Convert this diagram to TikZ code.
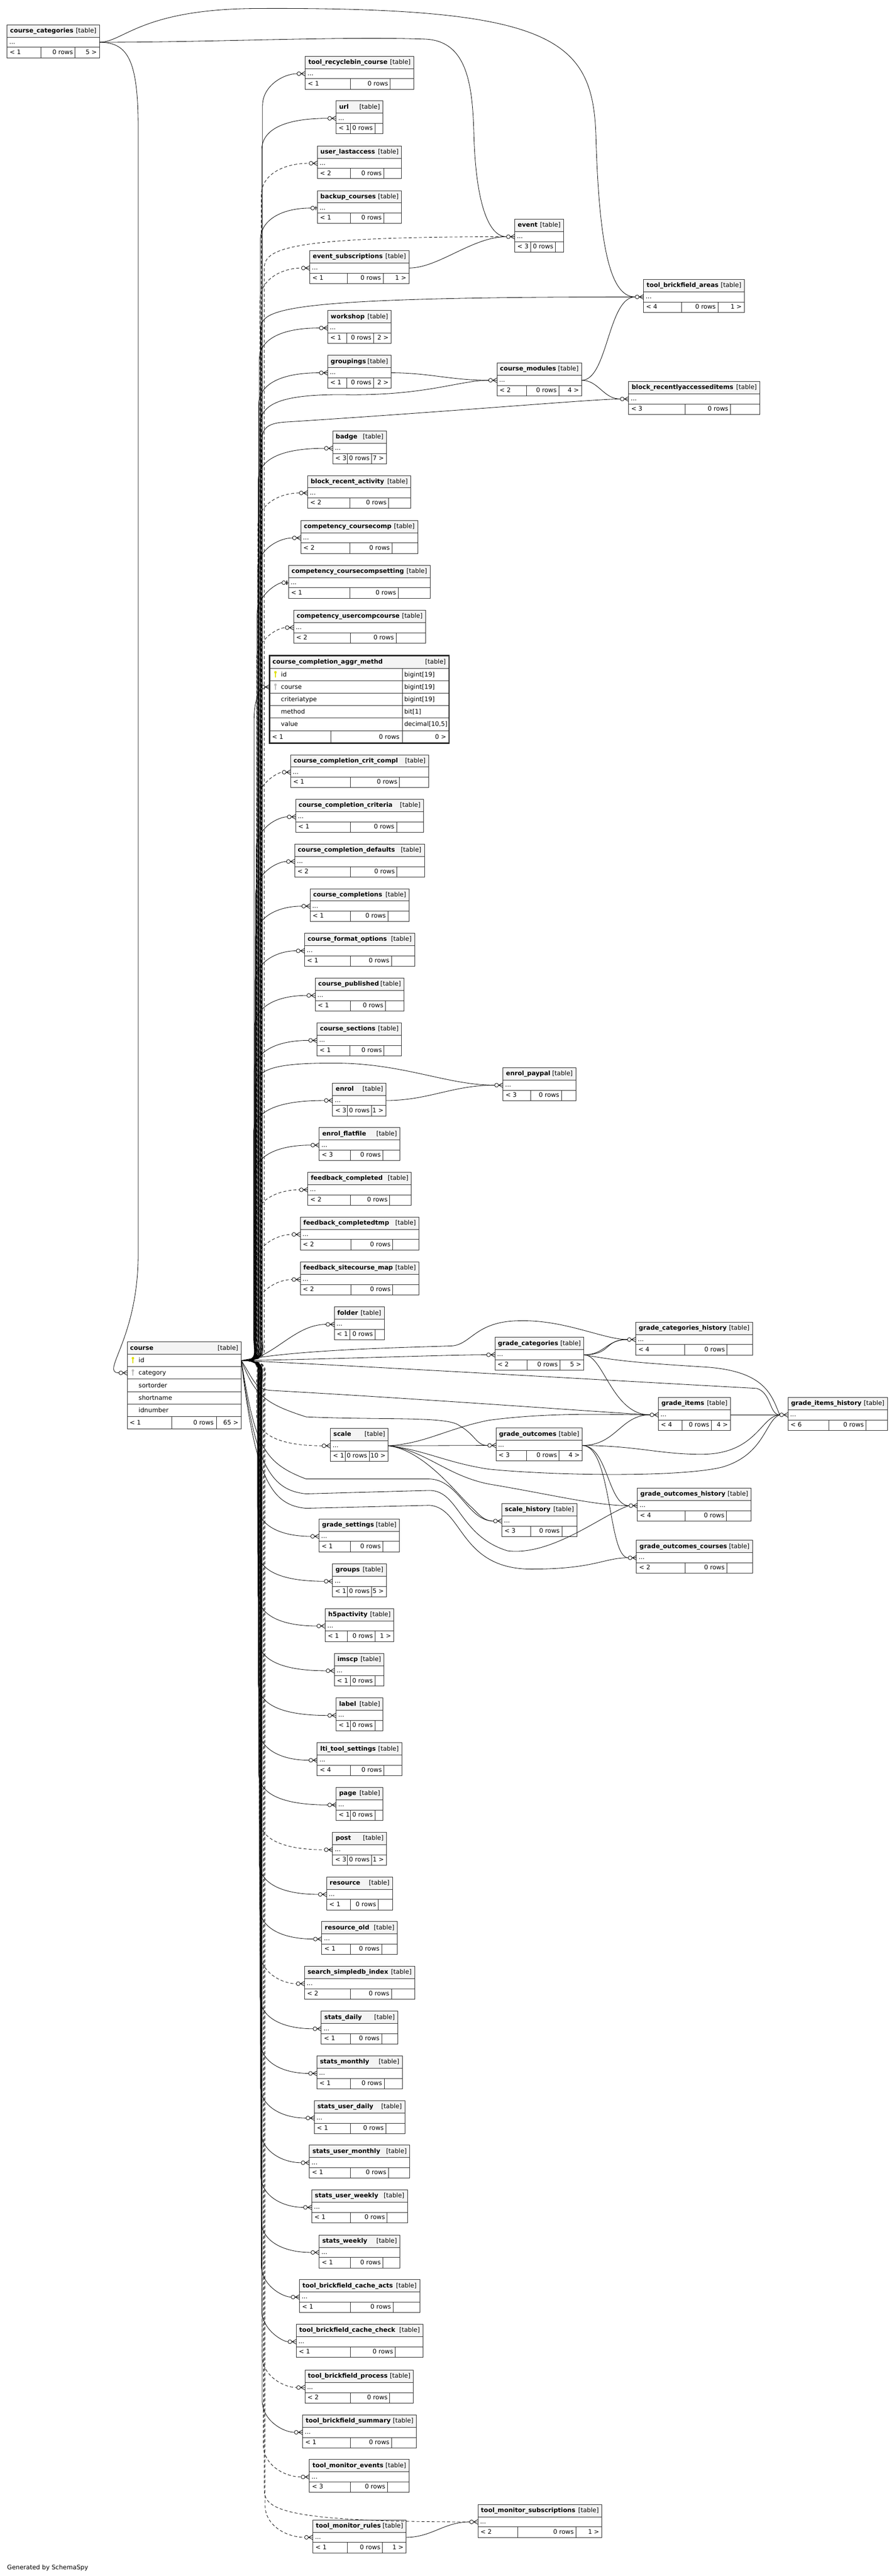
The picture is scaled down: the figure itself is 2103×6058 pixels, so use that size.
\documentclass[tikz,border=0pt]{standalone}
\usepackage{fontspec}
\setmainfont{DejaVu Sans}
\usetikzlibrary{calc}

\definecolor{hdr}{HTML}{F4F4F4}
\definecolor{pkey}{HTML}{E0E000}
\definecolor{fkey}{HTML}{BDBDBD}

\tikzset{
  every node/.style={font=\fontsize{14.6}{17}\selectfont, inner sep=0pt},
  box/.style={draw=black!85, line width=1.2pt},
  fk/.style={line width=1pt},
  impl/.style={dash pattern=on 7pt off 5pt},
}

% table with "..." row: name, left, top, right, divider 1, divider 2, title, parents, children
\newcommand\tbl[9]{%
  \fill[hdr] (#2,#3) rectangle (#4,#3+29);
  \draw[box] (#2,#3) rectangle (#4,#3+77.4);
  \draw[box] (#2,#3+29) -- (#4,#3+29) (#2,#3+53) -- (#4,#3+53)
    (#5,#3+53) -- (#5,#3+77.4) (#6,#3+53) -- (#6,#3+77.4);
  \node[anchor=base west] (#1-h) at (#2+7,#3+18.5) {\bfseries #7};
  \node[anchor=base east] (#1-t) at (#4-7,#3+18.5) {[table]};
  \node[anchor=base west] (#1-r) at (#2+5,#3+45) {...};
  \node[anchor=base west] (#1-a) at (#2+6,#3+69) {#8};
  \node[anchor=base east] (#1-n) at (#6-5,#3+69) {0 rows};
  \node[anchor=base east] (#1-b) at (#4-6,#3+69) {#9};
  \coordinate (#1-w) at (#2,#3+41);
  \coordinate (#1-out) at (#4,#3+41);
}
% zero or many
\newcommand\manyend[2]{%
  \draw[fk] ($(#2)+(-10.5,0)$) -- (#2) ($(#2)+(-10,0)$) -- ($(#2)+(0,-5.5)$)
    ($(#2)+(-10,0)$) -- ($(#2)+(0,5.5)$);
  \draw[fk,fill=white] ($(#2)+(-15,0)$) circle (4.5pt);
  \coordinate (#1-in) at ($(#2)+(-19.5,0)$);
}
% zero or one
\newcommand\oneend[2]{%
  \draw[fk] ($(#2)+(-6.5,0)$) -- (#2);
  \draw[line width=2.2pt] ($(#2)+(-3.5,-5)$) -- ($(#2)+(-3.5,5)$);
  \draw[fk,fill=white] ($(#2)+(-11,0)$) circle (4.5pt);
  \coordinate (#1-in) at ($(#2)+(-15.5,0)$);
}
\newcommand\keyicon[3]{%
  \fill[#3] (#1,#2) circle (3pt);
  \draw[#3,line width=2.4pt] (#1,#2) -- (#1,#2+12);
}
% edges out of course: up / down the trunk
\newcommand\fkup[3][]{%
  \draw[fk,#1] let \p1=(course-out), \p2=(#2-in) in
    (\p1) .. controls (\x1+#3pt+12pt,\y1) and (\x1+#3pt,\y1+18pt) .. (\x1+#3pt,\y1+55pt)
    -- (\x1+#3pt,\y2-75pt) .. controls (\x1+#3pt,\y2-28pt) and ({min(\x2,\x1+#3pt+50pt)},\y2) .. (\p2);
}
\newcommand\fkdn[3][]{%
  \draw[fk,#1] let \p1=(course-out), \p2=(#2-in) in
    (\p1) .. controls (\x1+#3pt+12pt,\y1) and (\x1+#3pt,\y1-18pt) .. (\x1+#3pt,\y1-55pt)
    -- (\x1+#3pt,\y2+75pt) .. controls (\x1+#3pt,\y2+28pt) and ({min(\x2,\x1+#3pt+50pt)},\y2) .. (\p2);
}

\begin{document}
\begin{tikzpicture}[x=1pt,y=-1pt]
\fill[white] (0,0) rectangle (2103,6058);
\useasboundingbox (0,0) rectangle (2103,6058);

% ---- tables
\tbl{cc}{16.7}{58.3}{234}{96.7}{176.7}{course\_categories}{< 1}{5 >}
\tbl{recyclebin}{718.3}{132.3}{973.3}{825}{918.3}{tool\_recyclebin\_course}{< 1}{}
\tbl{url}{790.7}{237.3}{901}{825}{882.3}{url}{< 1}{}
\tbl{lastaccess}{746.7}{343}{945}{825}{903.3}{user\_lastaccess}{< 2}{}
\tbl{backup}{746.7}{448.3}{945}{825}{903.3}{backup\_courses}{< 1}{}
\tbl{evsub}{728.7}{589.3}{962.2}{817.5}{901.5}{event\_subscriptions}{< 1}{1 >}
\tbl{workshop}{770.8}{730.3}{920.2}{816}{879}{workshop}{< 1}{2 >}
\tbl{groupings}{770.8}{835.7}{920.2}{816}{879}{groupings}{< 1}{2 >}
\tbl{badge}{782.7}{1013.3}{909.3}{817}{874.7}{badge}{< 3}{7 >}
\tbl{recact}{723.7}{1118.3}{966.7}{823.7}{914.7}{block\_recent\_activity}{< 2}{}
\tbl{ccomp}{707.7}{1224}{982.7}{823.7}{922.3}{competency\_coursecomp}{< 2}{}
\tbl{ccompset}{678.7}{1329.3}{1012}{823.7}{937}{competency\_coursecompsetting}{< 1}{}
\tbl{ucompc}{690.7}{1435}{1001.3}{825}{932}{competency\_usercompcourse}{< 2}{}
\tbl{critcompl}{683.5}{1775}{1008.5}{824}{940}{course\_completion\_crit\_compl}{< 1}{}
\tbl{criteria}{695.5}{1880}{996.5}{824}{933}{course\_completion\_criteria}{< 1}{}
\tbl{cdefaults}{693.5}{1985}{998.5}{824}{934}{course\_completion\_defaults}{< 2}{}
\tbl{completions}{729.5}{2090}{962.5}{824}{913}{course\_completions}{< 1}{}
\tbl{formatopts}{716.5}{2195}{975.5}{824}{921}{course\_format\_options}{< 1}{}
\tbl{published}{741.5}{2300}{950.5}{824}{907}{course\_published}{< 1}{}
\tbl{sections}{745.7}{2405.7}{945}{823.3}{903.7}{course\_sections}{< 1}{}
\tbl{enrol}{782.6}{2547}{908.5}{817}{874.7}{enrol}{< 3}{1 >}
\tbl{flatfile}{751}{2652}{941}{824}{901}{enrol\_flatfile}{< 3}{}
\tbl{fbcompl}{724}{2757}{968}{824}{917}{feedback\_completed}{< 2}{}
\tbl{fbtmp}{706.5}{2862}{985.5}{825.3}{924}{feedback\_completedtmp}{< 2}{}
\tbl{fbmap}{706.5}{2968}{985.5}{825.3}{924}{feedback\_sitecourse\_map}{< 2}{}
\tbl{folder}{786.4}{3073.5}{904}{823.8}{882.6}{folder}{< 1}{}
\tbl{scale}{777.2}{3359}{913.3}{812}{869}{scale}{< 1}{10 >}
\tbl{gsettings}{750.5}{3572}{940}{825}{901}{grade\_settings}{< 1}{}
\tbl{groups}{782.3}{3677.7}{909}{817.3}{874.7}{groups}{< 1}{5 >}
\tbl{h5p}{765}{3782.8}{926.3}{817.3}{882.7}{h5pactivity}{< 1}{1 >}
\tbl{imscp}{786.7}{3888.1}{903.7}{824}{882.3}{imscp}{< 1}{}
\tbl{label}{790.7}{3993.2}{901.3}{825}{882.3}{label}{< 1}{}
\tbl{lti}{746.3}{4098.5}{945.3}{825}{903.7}{lti\_tool\_settings}{< 4}{}
\tbl{page}{790.7}{4203.6}{901.3}{825}{882.3}{page}{< 1}{}
\tbl{post}{782.5}{4309}{909.5}{817}{874.7}{post}{< 3}{1 >}
\tbl{resource}{768.5}{4414}{923.5}{824}{890}{resource}{< 1}{}
\tbl{resold}{757}{4519}{935}{824}{898}{resource\_old}{< 1}{}
\tbl{search}{716.5}{4624}{975.5}{824}{921}{search\_simpledb\_index}{< 2}{}
\tbl{stdaily}{756}{4730}{936}{824}{898}{stats\_daily}{< 1}{}
\tbl{stmonthly}{745.5}{4835}{946.5}{824}{904}{stats\_monthly}{< 1}{}
\tbl{studaily}{739.5}{4940}{952.5}{824}{908}{stats\_user\_daily}{< 1}{}
\tbl{stumonthly}{728}{5045}{964}{824}{914}{stats\_user\_monthly}{< 1}{}
\tbl{stuweekly}{733.5}{5150}{958.5}{824}{911}{stats\_user\_weekly}{< 1}{}
\tbl{stweekly}{751}{5256}{941}{824}{901}{stats\_weekly}{< 1}{}
\tbl{bfacts}{704.5}{5361}{987.5}{824}{925}{tool\_brickfield\_cache\_acts}{< 1}{}
\tbl{bfcheck}{697}{5466}{995}{824}{930}{tool\_brickfield\_cache\_check}{< 1}{}
\tbl{bfproc}{717.3}{5573.7}{972.8}{823.9}{917.1}{tool\_brickfield\_process}{< 2}{}
\tbl{bfsum}{712}{5679}{979.8}{825}{921.4}{tool\_brickfield\_summary}{< 1}{}
\tbl{monev}{728}{5784}{962.6}{823.9}{911.7}{tool\_monitor\_events}{< 3}{}
\tbl{monrules}{736}{5926}{955.6}{817}{900}{tool\_monitor\_rules}{< 1}{1 >}

\tbl{event}{1211}{515.7}{1326}{1248.6}{1307}{event}{< 3}{}
\tbl{tbareas}{1514}{657.3}{1751.3}{1603.5}{1689}{tool\_brickfield\_areas}{< 4}{1 >}
\tbl{cmods}{1169.2}{853.3}{1368.4}{1239}{1314.7}{course\_modules}{< 2}{4 >}
\tbl{raitems}{1478.9}{897.3}{1787.8}{1612}{1718.6}{block\_recentlyaccesseditems}{< 3}{}
\tbl{paypal}{1183.3}{2511}{1354.7}{1248.6}{1321}{enrol\_paypal}{< 3}{}
\tbl{gcat}{1164.4}{3145}{1373.8}{1240.6}{1317.5}{grade\_categories}{< 2}{5 >}
\tbl{gcathist}{1495.6}{3109.2}{1770.6}{1611}{1710.6}{grade\_categories\_history}{< 4}{}
\tbl{gitems}{1548.8}{3286.3}{1718.8}{1605}{1673.8}{grade\_items}{< 4}{4 >}
\tbl{gitemshist}{1853.8}{3286.3}{2088}{1950}{2037.5}{grade\_items\_history}{< 6}{}
\tbl{gout}{1166.9}{3358.2}{1370}{1238.8}{1315.6}{grade\_outcomes}{< 3}{4 >}
\tbl{shist}{1180.6}{3536}{1357.5}{1248.8}{1321.9}{scale\_history}{< 3}{}
\tbl{gouthist}{1499.4}{3499.8}{1767.5}{1612.5}{1709.4}{grade\_outcomes\_history}{< 4}{}
\tbl{goutcourses}{1497.5}{3622.4}{1770.6}{1612}{1710}{grade\_outcomes\_courses}{< 2}{}
\tbl{monsubs}{1124.4}{5889.7}{1416}{1218}{1355}{tool\_monitor\_subscriptions}{< 2}{1 >}

% course_completion_aggr_methd, all columns
\fill[hdr] (634,1541.7) rectangle (1056.3,1571.7);
\draw[box] (634,1571.7) -- (1056.3,1571.7) (634,1601) -- (1056.3,1601)
  (634,1630.3) -- (1056.3,1630.3) (634,1659.6) -- (1056.3,1659.6)
  (634,1688.9) -- (1056.3,1688.9) (634,1718.2) -- (1056.3,1718.2)
  (946.3,1571.7) -- (946.3,1747.5) (778.7,1718.2) -- (778.7,1747.5);
\draw[box,line width=3.2pt] (634,1541.7) rectangle (1056.3,1747.5);
\node[anchor=base west] (aggr-h) at (641,1561.5) {\bfseries course\_completion\_aggr\_methd};
\node[anchor=base east] (aggr-t) at (1049,1561.5) {[table]};
\keyicon{648}{1581}{pkey}
\keyicon{648}{1610.3}{fkey}
\node[anchor=base west] (aggr-c1) at (661,1591) {id};
\node[anchor=base west] (aggr-c2) at (661,1620.3) {course};
\node[anchor=base west] (aggr-c3) at (661,1649.6) {criteriatype};
\node[anchor=base west] (aggr-c4) at (661,1679) {method};
\node[anchor=base west] (aggr-c5) at (661,1708.2) {value};
\node[anchor=base west] (aggr-d1) at (951,1591) {bigint[19]};
\node[anchor=base west] (aggr-d2) at (951,1620.3) {bigint[19]};
\node[anchor=base west] (aggr-d3) at (951,1649.6) {bigint[19]};
\node[anchor=base west] (aggr-d4) at (951,1679) {bit[1]};
\node[anchor=base west] (aggr-d5) at (951,1708.2) {decimal[10,5]};
\node[anchor=base west] (aggr-a) at (640,1738) {< 1};
\node[anchor=base east] (aggr-n) at (940,1738) {0 rows};
\node[anchor=base east] (aggr-b) at (1050,1738) {0 >};
\coordinate (aggr-w) at (634,1615.6);

% course, key columns
\fill[hdr] (299.3,3156) rectangle (567.7,3185);
\draw[box] (299.3,3156) rectangle (567.7,3360);
\draw[box] (299.3,3185) -- (567.7,3185) (299.3,3214) -- (567.7,3214)
  (299.3,3243) -- (567.7,3243) (299.3,3272.5) -- (567.7,3272.5)
  (299.3,3302) -- (567.7,3302) (299.3,3331) -- (567.7,3331)
  (404,3331) -- (404,3360) (509,3331) -- (509,3360);
\node[anchor=base west] (course-h) at (306,3175) {\bfseries course};
\node[anchor=base east] (course-t) at (560.7,3175) {[table]};
\keyicon{312.7}{3194}{pkey}
\keyicon{312.7}{3223}{fkey}
\node[anchor=base west] (course-c1) at (326,3204.5) {id};
\node[anchor=base west] (course-c2) at (326,3233.5) {category};
\node[anchor=base west] (course-c3) at (326,3263) {sortorder};
\node[anchor=base west] (course-c4) at (326,3292) {shortname};
\node[anchor=base west] (course-c5) at (326,3321) {idnumber};
\node[anchor=base west] (course-a) at (305,3351) {< 1};
\node[anchor=base east] (course-n) at (503,3351) {0 rows};
\node[anchor=base east] (course-b) at (561,3351) {65 >};
\coordinate (course-out) at (567.7,3199.5);
\coordinate (course-cw) at (299.3,3228.5);

\node[anchor=base west] (gen) at (16.7,6043) {Generated by SchemaSpy};

% ---- ends
\manyend{course}{course-cw}
\manyend{aggr}{aggr-w}
\foreach \t in {recyclebin,url,lastaccess,evsub,workshop,groupings,badge,recact,ccomp,ucompc,
  critcompl,criteria,cdefaults,completions,formatopts,published,sections,enrol,flatfile,
  fbcompl,fbtmp,fbmap,folder,scale,gsettings,groups,h5p,imscp,label,lti,page,post,resource,
  resold,search,stdaily,stmonthly,studaily,stumonthly,stuweekly,stweekly,bfacts,bfcheck,
  bfproc,bfsum,monev,monrules,event,tbareas,cmods,raitems,paypal,gcat,gcathist,gitems,
  gitemshist,gout,shist,gouthist,goutcourses,monsubs}
  {\manyend{\t}{\t-w}}
\oneend{backup}{backup-w}
\oneend{ccompset}{ccompset-w}

% ---- course_categories
\draw[fk] (cc-out) .. controls (300,99.7) and (325,140) .. (325,300) -- (325,2950)
  .. controls (325,3150) and (235,3228.5) .. (course-in);
\draw[fk] (cc-out) .. controls (500,99.7) and (800,85) .. (1000,92)
  .. controls (1100,96) and (1112,200) .. (1115,320)
  .. controls (1120,480) and (1150,556.7) .. (event-in);
\draw[fk] (cc-out) .. controls (290,99.7) and (330,22) .. (600,20)
  .. controls (1300,16) and (1395,90) .. (1402,320)
  .. controls (1410,600) and (1440,698.3) .. (tbareas-in);

% ---- course, upwards
\fkup{recyclebin}{50}
\fkup{url}{48}
\fkup[impl]{lastaccess}{47}
\fkup{backup}{45}
\fkup[impl]{event}{54}
\fkup[impl]{evsub}{44}
\fkup{tbareas}{46}
\fkup{workshop}{42}
\fkup{groupings}{41}
\draw[fk] (course-out) .. controls (624,3199.5) and (612,3180) .. (612,3140) -- (612,1000)
  .. controls (612,950) and (660,928) .. (803,928)
  .. controls (1000,932) and (1080,894.3) .. (cmods-in);
\draw[fk] (course-out) .. controls (628,3199.5) and (616,3180) .. (616,3140) -- (616,1040)
  .. controls (616,1005) and (630,994) .. (680,992)
  .. controls (1100,965) and (1400,938.3) .. (raitems-in);
\fkup{badge}{40}
\fkup[impl]{recact}{39}
\fkup{ccomp}{38}
\fkup{ccompset}{37}
\fkup[impl]{ucompc}{36}
\fkup{aggr}{30}
\fkup[impl]{critcompl}{36}
\fkup{criteria}{35}
\fkup{cdefaults}{34}
\fkup{completions}{33}
\fkup{formatopts}{32}
\fkup{published}{31}
\fkup{sections}{30}
\draw[fk] (course-out) .. controls (612,3199.5) and (600,3180) .. (600,3140) -- (600,2560)
  .. controls (600,2515) and (640,2500) .. (784,2500)
  .. controls (950,2500) and (1050,2552) .. (paypal-in);
\fkup{enrol}{29}
\fkup{flatfile}{30}
\fkup[impl]{fbcompl}{31}
\fkup[impl]{fbtmp}{32}
\fkup[impl]{fbmap}{34}
\draw[fk] (course-out) .. controls (640,3199.5) and (690,3114.5) .. (folder-in);

% ---- course, downwards
\fkdn[impl]{scale}{36}
\fkdn{gsettings}{38}
\fkdn{groups}{38}
\fkdn{h5p}{39}
\fkdn{imscp}{40}
\fkdn{label}{40}
\fkdn{lti}{41}
\fkdn{page}{41}
\fkdn[impl]{post}{42}
\fkdn{resource}{42}
\fkdn{resold}{43}
\fkdn[impl]{search}{44}
\fkdn{stdaily}{44}
\fkdn{stmonthly}{45}
\fkdn{studaily}{45}
\fkdn{stumonthly}{46}
\fkdn{stuweekly}{46}
\fkdn{stweekly}{47}
\fkdn{bfacts}{47}
\fkdn{bfcheck}{48}
\fkdn[impl]{bfproc}{49}
\fkdn{bfsum}{49}
\fkdn[impl]{monev}{52}
\fkdn[impl]{monrules}{56}
\fkdn[impl]{monsubs}{54}

% ---- course, grade tables
\draw[fk] (course-out) .. controls (800,3196) and (1050,3186) .. (gcat-in);
\draw[fk] (course-out) .. controls (700,3172) and (1000,3168) .. (1065,3165)
  .. controls (1110,3160) and (1120,3106) .. (1225,3106)
  .. controls (1330,3104) and (1420,3150) .. (gcathist-in);
\draw[fk] (course-out) .. controls (900,3215) and (1500,3250) .. (1780,3265)
  .. controls (1815,3275) and (1810,3327.3) .. (gitemshist-in);
\draw[fk] (course-out) .. controls (600,3250) and (600,3268) .. (640,3270)
  .. controls (1000,3290) and (1400,3320) .. (gitems-in);
\draw[fk] (course-out) .. controls (600,3280) and (620,3300) .. (720,3332)
  .. controls (900,3340) and (1050,3330) .. (1080,3352)
  .. controls (1120,3375) and (1120,3399.2) .. (gout-in);
\draw[fk] (course-out) .. controls (600,3400) and (620,3440) .. (720,3478) -- (1010,3478)
  .. controls (1080,3480) and (1100,3577) .. (shist-in);
\draw[fk] (course-out) .. controls (600,3450) and (640,3505) .. (720,3513) -- (1010,3505)
  .. controls (1080,3505) and (1080,3612) .. (1194,3647)
  .. controls (1300,3660) and (1420,3560) .. (gouthist-in);
\draw[fk] (course-out) .. controls (600,3480) and (640,3540) .. (720,3547) -- (1010,3540)
  .. controls (1090,3545) and (1080,3690) .. (1250,3690)
  .. controls (1400,3690) and (1420,3663.4) .. (goutcourses-in);

% ---- scale
\draw[fk] (scale-out) -- (gout-in);
\draw[fk] (scale-out) .. controls (1000,3395) and (1050,3360) .. (1150,3340)
  .. controls (1300,3320) and (1450,3327.3) .. (gitems-in);
\draw[fk] (scale-out) .. controls (1000,3410) and (1050,3440) .. (1150,3455)
  .. controls (1300,3470) and (1600,3475) .. (1700,3450)
  .. controls (1800,3420) and (1800,3340) .. (gitemshist-in);
\draw[fk] (scale-out) .. controls (1000,3410) and (1050,3470) .. (1150,3490)
  .. controls (1300,3515) and (1400,3540.8) .. (gouthist-in);
\draw[fk] (scale-out) .. controls (1000,3410) and (1080,3520) .. (1110,3545)
  .. controls (1130,3565) and (1140,3577) .. (shist-in);

% ---- grade tables among themselves
\draw[fk] (gcat-out) .. controls +(50,0) and +(-50,0) .. (gcathist-in);
\draw[fk] (gcat-out) .. controls (1440,3186) and (1420,3150.2) .. (gcathist-in);
\draw[fk] (gcat-out) .. controls (1420,3186) and (1440,3327.3) .. (gitems-in);
\draw[fk] (gcat-out) .. controls (1450,3200) and (1500,3205) .. (1662,3215)
  .. controls (1800,3225) and (1815,3280) .. (gitemshist-in);
\draw[fk] (gitems-out) -- (gitemshist-in);
\draw[fk] (gout-out) .. controls (1450,3399.2) and (1460,3327.3) .. (gitems-in);
\draw[fk] (gout-out) .. controls (1500,3400) and (1550,3420) .. (1650,3420)
  .. controls (1780,3420) and (1790,3330) .. (gitemshist-in);
\draw[fk] (gout-out) .. controls (1430,3400) and (1430,3540.8) .. (gouthist-in);
\draw[fk] (gout-out) .. controls (1440,3400) and (1430,3663.4) .. (goutcourses-in);

% ---- others
\draw[fk] (evsub-out) .. controls +(70,0) and +(-80,0) .. (event-in);
\draw[fk] (groupings-out) .. controls +(90,0) and +(-90,0) .. (cmods-in);
\draw[fk] (cmods-out) .. controls (1430,894.3) and (1430,698.3) .. (tbareas-in);
\draw[fk] (cmods-out) .. controls +(40,0) and +(-40,0) .. (raitems-in);
\draw[fk] (enrol-out) .. controls +(100,0) and +(-100,0) .. (paypal-in);
\draw[fk] (monrules-out) .. controls +(60,0) and +(-60,0) .. (monsubs-in);
\end{tikzpicture}
\end{document}
